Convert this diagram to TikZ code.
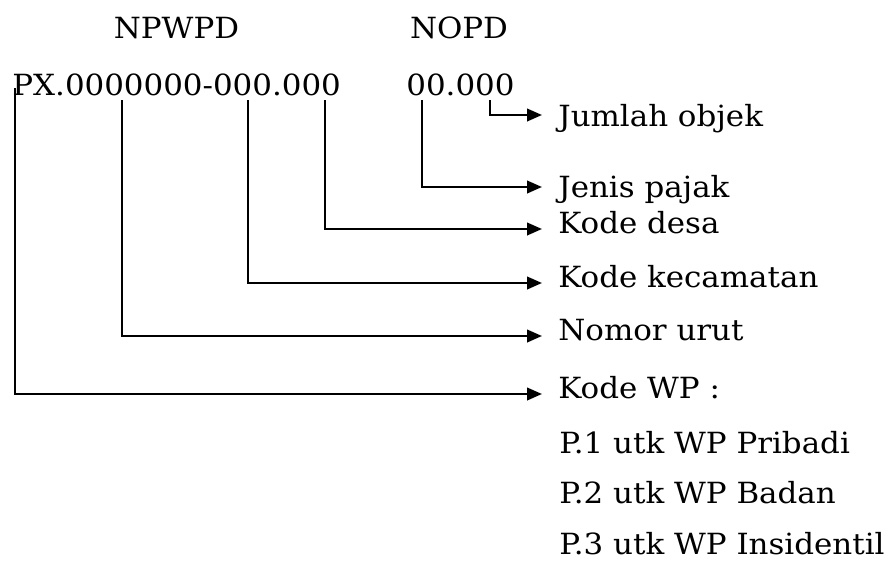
\documentclass[tikz,border=0pt]{standalone}
\usepackage{fontspec}
\setmainfont{DejaVu Serif}[FakeStretch=1.06]
\usetikzlibrary{arrows.meta}
\begin{document}
\begin{tikzpicture}[x=0.02cm, y=-0.02cm,
	txt/.style={inner sep=0pt, font=\fontsize{16.6}{21}\selectfont},
	ket/.style={txt, anchor=west, inner xsep=0.32cm, text height=0.8em, text depth=0.25em},
	garis/.style={line width=1.4pt, -{Triangle[length=0.3cm, width=0.25cm]}}]
				\useasboundingbox (0,0) rectangle (893,561);
				\node[txt, anchor=base] (npwpd)at(176.5, 38) {NPWPD};
				\node[txt, anchor=base] (nopd)at(459, 38) {NOPD};
				\node[txt, anchor=base west] (nomor)at(12, 95) {PX.0000000-000.000};
				\node[txt, anchor=base west] (nop)at(406, 95) {00.000};
				\coordinate (kwp0)at(15, 88);
				\coordinate (urut0)at(122, 100);
				\coordinate (kec0)at(248, 100);
				\coordinate (desa0)at(325, 100);
				\coordinate (jenis0)at(422, 100);
				\coordinate (jml0)at(490, 100);
				\node[ket] (jml)at(542, 121.5) {Jumlah objek};
				\node[ket] (jenis)at(542, 192.5) {Jenis pajak};
				\node[ket] (desa)at(542, 229) {Kode desa};
				\node[ket] (kec)at(542, 283) {Kode kecamatan};
				\node[ket] (urut)at(542, 336) {Nomor urut};
				\node[ket] (kwp)at(542, 394) {Kode WP :};
				\node[txt, anchor=base west] (p1)at(559, 453) {P.1 utk WP Pribadi};
				\node[txt, anchor=base west] (p2)at(559, 503) {P.2 utk WP Badan};
				\node[txt, anchor=base west] (p3)at(559, 554) {P.3 utk WP Insidentil};
				\draw[garis] (jml0) |- ([yshift=0.13cm]jml.west);
				\draw[garis] (jenis0) |- ([yshift=0.11cm]jenis.west);
				\draw[garis] (desa0) |- (desa.west);
				\draw[garis] (kec0) |- (kec.west);
				\draw[garis] (urut0) |- (urut.west);
				\draw[garis] (kwp0) |- (kwp.west);
			\end{tikzpicture}
\end{document}
